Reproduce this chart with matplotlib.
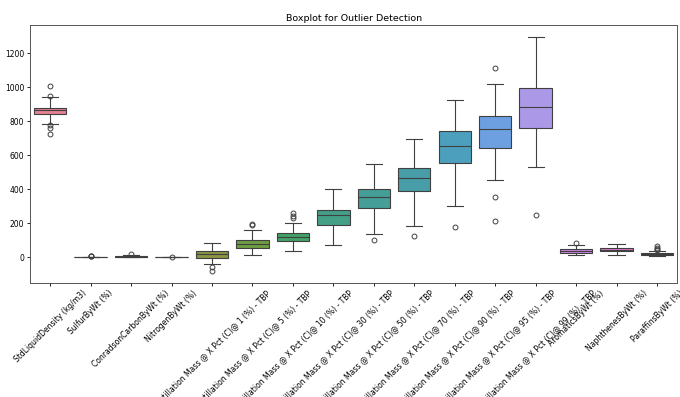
import colorsys

import matplotlib
matplotlib.use("Agg")
import matplotlib.colors as mcolors
import matplotlib.pyplot as plt
import seaborn as sns

FEATURES = [
    "StdLiquidDensity (kg/m3)",
    "SulfurByWt (%)",
    "ConradsonCarbonByWt (%)",
    "NitrogenByWt (%)",
    "Distillation Mass @ X Pct (C)@ 1 (%) - TBP",
    "Distillation Mass @ X Pct (C)@ 5 (%) - TBP",
    "Distillation Mass @ X Pct (C)@ 10 (%) - TBP",
    "Distillation Mass @ X Pct (C)@ 30 (%) - TBP",
    "Distillation Mass @ X Pct (C)@ 50 (%) - TBP",
    "Distillation Mass @ X Pct (C)@ 70 (%) - TBP",
    "Distillation Mass @ X Pct (C)@ 90 (%) - TBP",
    "Distillation Mass @ X Pct (C)@ 95 (%) - TBP",
    "Distillation Mass @ X Pct (C)@ 99 (%) - TBP",
    "AromaticsByWt (%)",
    "NaphthenesByWt (%)",
    "ParaffinsByWt (%)",
]

# five-number summaries per feature
q1 = [841, 0.3, 2, 0.05, -2, 55, 96, 188, 292, 390, 555, 645, 759, 28, 35, 16]
median = [863, 1.2, 4, 0.1, 18, 80, 120, 251, 355, 469, 657, 753, 884, 39, 45, 22]
q3 = [880, 2.3, 8, 0.2, 37, 100, 143, 280, 400, 527, 741, 829, 996, 51, 55, 28]
whis_lo = [782, 0, 0, 0, -37, 16, 35, 75, 135, 182, 300, 453, 528, 16, 16, 6]
whis_hi = [943, 5, 14, 0.4, 84, 163, 202, 400, 547, 698, 924, 1016, 1296, 71, 78, 38]
outliers = [
    [1006, 948, 775, 760, 722],
    [6, 7, 8],
    [18],
    [0.6],
    [-55, -82],
    [190, 196],
    [263, 241, 231],
    [],
    [104],
    [124],
    [178],
    [1112, 357, 212],
    [249],
    [86],
    [],
    [44, 48, 55, 65],
]

stats = [
    {"q1": a, "med": m, "q3": b, "whislo": lo, "whishi": hi, "fliers": f}
    for a, m, b, lo, hi, f in zip(q1, median, q3, whis_lo, whis_hi, outliers)
]

palette = sns.color_palette("husl", len(FEATURES), desat=0.75)
lum = min(colorsys.rgb_to_hls(*c)[1] for c in palette) * 0.6
gray = mcolors.rgb2hex((lum, lum, lum))

fig = plt.figure(figsize=(6.8, 3.97), dpi=100)
ax = fig.add_axes([0.044, 0.287, 0.952, 0.65])

line = dict(color=gray, linewidth=0.8)
bp = ax.bxp(
    stats, positions=range(len(FEATURES)), widths=0.8, patch_artist=True,
    boxprops=dict(edgecolor=gray, linewidth=0.8),
    whiskerprops=line, capprops=line, medianprops=line,
    flierprops=dict(marker="o", markersize=3.5, markerfacecolor="none",
                    markeredgecolor=gray, markeredgewidth=0.7),
)
for patch, c in zip(bp["boxes"], palette):
    patch.set_facecolor(c)

ax.set_xlim(-0.5, len(FEATURES) - 0.5)
ax.set_xticks(range(len(FEATURES)), FEATURES, rotation=45)
ax.set_yticks([0, 200, 400, 600, 800, 1000, 1200])
ax.tick_params(labelsize=5.5, length=2, width=0.6, pad=2)
for s in ax.spines.values():
    s.set_linewidth(0.7)
    s.set_color("#555555")
ax.set_title("Boxplot for Outlier Detection", fontsize=6.8, pad=3)

fig.savefig("out.png", dpi=100)
